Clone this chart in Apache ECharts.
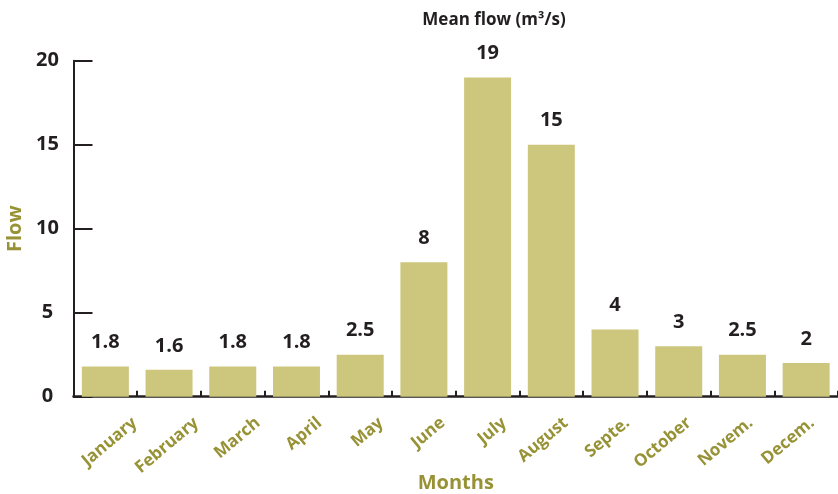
<!DOCTYPE html>
<html>
<head>
<meta charset="utf-8">
<script src="https://cdn.jsdelivr.net/npm/echarts@6/dist/echarts.min.js"></script>
<style>
  html, body { margin: 0; padding: 0; background: #fff; }
  #chart { width: 838px; height: 494px; }
</style>
</head>
<body>
<div id="chart"></div>
<script>
// Monthly mean flow of the river (m³/s)
const months = ['January', 'February', 'March', 'April', 'May', 'June',
                'July', 'August', 'Septe.', 'October', 'Novem.', 'Decem.'];
const meanFlow = [1.8, 1.6, 1.8, 1.8, 2.5, 8, 19, 15, 4, 3, 2.5, 2];
const flowTicks = { min: 0, max: 20, interval: 5 };

const FONT = '"Open Sans", "Noto Sans", sans-serif';
const DARK = '#231f20';
const OLIVE = '#989236';
const BAR = '#cdc77e';

const chart = echarts.init(document.getElementById('chart'), null, { renderer: 'canvas' });

chart.setOption({
  animation: false,
  backgroundColor: '#ffffff',
  graphic: [{
    type: 'text',
    x: 494,
    y: 20,
    style: {
      text: 'Mean flow (m³/s)',
      font: 'bold 17px ' + FONT,
      fill: DARK,
      align: 'center',
      verticalAlign: 'middle'
    }
  }],
  grid: [
    { left: 73.5, right: 0, top: 60.7, bottom: 97.3, outerBoundsMode: 'none', containLabel: false },
    // month labels hang from their own band, shifted to the right of the bars
    { left: 104, right: -5, top: 60.7, bottom: 97.3, outerBoundsMode: 'none', containLabel: false }
  ],
  xAxis: [{
    type: 'category',
    gridIndex: 0,
    data: months,
    name: 'Months',
    nameLocation: 'middle',
    nameGap: 77,
    nameTextStyle: { color: OLIVE, fontFamily: FONT, fontWeight: 'bold', fontSize: 20 },
    axisLine: { show: true, lineStyle: { color: DARK, width: 2.5 } },
    axisTick: { show: true, inside: true, length: 6, lineStyle: { color: DARK, width: 2 } },
    axisLabel: { show: false },
    splitLine: { show: false }
  }, {
    type: 'category',
    gridIndex: 1,
    data: months,
    axisLine: { show: false },
    axisTick: { show: false },
    axisLabel: {
      show: true,
      rotate: 40,
      margin: 24,
      color: OLIVE,
      fontFamily: FONT,
      fontWeight: 'bold',
      fontSize: 17,
      interval: 0
    },
    splitLine: { show: false }
  }],
  yAxis: [{
    type: 'value',
    gridIndex: 0,
    min: flowTicks.min,
    max: flowTicks.max,
    interval: flowTicks.interval,
    name: 'Flow',
    nameLocation: 'middle',
    nameGap: 56,
    nameRotate: 90,
    nameTextStyle: { color: OLIVE, fontFamily: FONT, fontWeight: 'bold', fontSize: 20, verticalAlign: 'middle' },
    axisLine: { show: true, lineStyle: { color: DARK, width: 2 } },
    axisTick: { show: true, inside: true, length: 19, lineStyle: { color: DARK, width: 2 } },
    axisLabel: {
      color: DARK,
      fontFamily: FONT,
      fontWeight: 'bold',
      fontSize: 20,
      align: 'center',
      margin: 26
    },
    splitLine: { show: false }
  }, {
    type: 'value',
    gridIndex: 1,
    min: flowTicks.min,
    max: flowTicks.max,
    show: false
  }],
  series: [{
    type: 'bar',
    xAxisIndex: 0,
    yAxisIndex: 0,
    data: meanFlow,
    barWidth: 47,
    itemStyle: { color: BAR },
    label: {
      show: true,
      position: 'top',
      distance: 14,
      color: DARK,
      fontFamily: FONT,
      fontWeight: 'bold',
      fontSize: 20
    }
  }]
});
</script>
</body>
</html>
